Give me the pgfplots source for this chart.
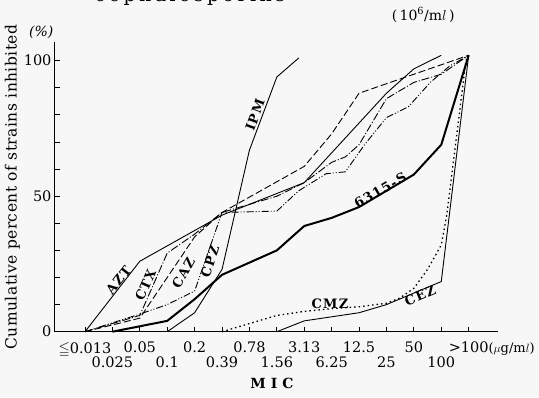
\documentclass[border=0pt]{standalone}
\usepackage{amssymb}
\usepackage{fontspec}
\setmainfont{DejaVu Serif}
\newfontfamily\lab[LetterSpace=10]{DejaVu Serif}
\newfontfamily\captfont[LetterSpace=18]{DejaVu Serif}
\newfontfamily\ylab[LetterSpace=3]{DejaVu Serif}
\usepackage{pgfplots}
\pgfplotsset{compat=1.18}
\begin{document}
\begin{tikzpicture}
\path[use as bounding box, fill=black!3] (-55pt,-65.3pt) rectangle (484pt,331.7pt);
\begin{axis}[at={(0,0)}, anchor=south west, scale only axis,
  width=443pt, height=289.7pt,
  xmin=-1.095, xmax=15.07, ymin=0, ymax=106.9,
  axis x line*=bottom, axis y line*=left,
  x axis line style={-}, y axis line style={-},
  axis line style={line width=1pt},
  clip=false,
  tick align=inside, major tick length=5pt,
  every tick/.style={line width=0.9pt, black},
  tick label style={font=\fontsize{14.5}{16}\selectfont},
  /pgf/number format/assume math mode=true,
  xtick={0,2,...,14},
  xticklabels={{$\leqq$0.013},0.05,0.2,0.78,3.13,12.5,50,{>100\rlap{\fontsize{13}{15}\selectfont($\mu$g/m$l$)}}},
  xticklabel style={yshift=-7pt},
  extra x ticks={1,3,...,13},
  extra x tick labels={0.025,0.1,0.39,1.56,6.25,25,100},
  extra x tick style={xticklabel style={yshift=-15pt}},
  ytick={0,10,...,100},
  yticklabels={0,,,,,50,,,,,100},
]
% AZT
\addplot[black, line width=0.9pt] coordinates {(0,0) (2,26) (5,43) (8,55) (9,66) (11,88) (12,97) (13,102)};
% CTX
\addplot[black, line width=0.9pt, dash pattern=on 8pt off 2pt on 1pt off 2pt] coordinates {(0,0) (1,3) (2,6) (3,29) (4,36) (5,44) (7,50) (8,55) (9,62.5) (9.5,64.5) (10,69) (11,86) (12,92) (13,95) (14,102)};
% CAZ
\addplot[black, line width=0.9pt, dash pattern=on 7pt off 3pt] coordinates {(0,0) (2,5) (3,20) (4,35) (5,44) (8,61) (9,73) (10,88) (14,102)};
% CPZ
\addplot[black, line width=0.9pt, dash pattern=on 7pt off 2pt on 1pt off 2pt on 1pt off 2pt] coordinates {(0,0) (2,6.5) (3,10) (4,15) (5,44) (7,44.5) (7.8,52) (8.8,58.3) (9.5,59) (10.2,69) (11,79) (11.8,83) (12.6,92) (13.3,98) (14,102)};
% IPM
\addplot[black, line width=0.9pt] coordinates {(3,0) (4,7) (5,23) (6,67) (7,94) (7.8,101)};
% 6315-S
\addplot[black, line width=2pt] coordinates {(1,0) (3,4) (4,12) (5,21) (7,30) (8,39) (9,42) (10,46) (12,58) (13,69) (14,102)};
% CMZ
\addplot[black, line width=1.3pt, dash pattern=on 1.5pt off 3pt] coordinates {(5,0) (6,3) (7,6) (8,7.5) (9,8.5) (10,9.2) (11,10.5) (11.5,12.5) (12,16) (12.5,23) (13,32) (13.2,43) (13.9,100) (14,102)};
% CEZ
\addplot[black, line width=0.9pt] coordinates {(7,0) (8,4) (10,7) (11,10) (13,18.5) (14,102)};

\tikzset{lbl/.style={font=\lab\bfseries\fontsize{13}{15}\selectfont, inner sep=0pt}}
\node[lbl, rotate=52] at (axis cs:1.22,19) {AZT};
\node[lbl, rotate=66] at (axis cs:2.21,17.2) {CTX};
\node[lbl, rotate=60] at (axis cs:3.59,21.5) {CAZ};
\node[lbl, rotate=72] at (axis cs:4.56,25.8) {CPZ};
\node[lbl, rotate=70] at (axis cs:6.2,80) {IPM};
\node[lbl, rotate=30] at (axis cs:10.77,52.2) {6315-S};
\node[lbl] at (axis cs:8.94,10.2) {CMZ};
\node[lbl, rotate=23] at (axis cs:12.23,13.3) {CEZ};

\node[font=\fontsize{14}{16}\selectfont\itshape] at (axis cs:-1.6,110.5) {(\%)};
\node[font=\fontsize{14}{16}\selectfont] at (axis cs:12.34,116.9) {(\,10\textsuperscript{6}/m$l$\,)};
\node[font=\ylab\fontsize{15.5}{17}\selectfont, rotate=90] at (axis cs:-2.65,53.4) {Cumulative percent of strains inhibited};
\node[font=\bfseries\fontsize{14}{16}\selectfont] at (axis cs:6.82,-19) {M\hspace{5pt}I\hspace{5pt}C};
\node[font=\captfont\fontsize{19}{21}\selectfont, anchor=base] at (axis cs:3.83,121.8) {cephalosporins};
\end{axis}
\end{tikzpicture}
\end{document}
